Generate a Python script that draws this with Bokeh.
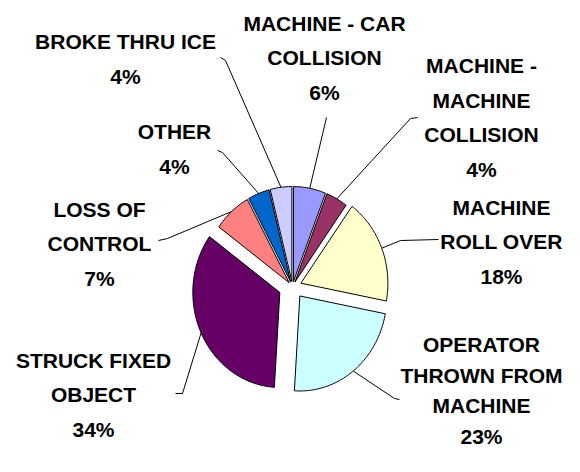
import numpy as np
from bokeh.plotting import figure
from bokeh.models import Range1d, ColumnDataSource
from bokeh.core.properties import value
from bokeh.embed import file_html
from bokeh.resources import INLINE

# ---- data ----
categories = [
    "MACHINE - CAR\nCOLLISION",
    "MACHINE -\nMACHINE\nCOLLISION",
    "MACHINE\nROLL OVER",
    "OPERATOR\nTHROWN FROM\nMACHINE",
    "STRUCK FIXED\nOBJECT",
    "LOSS OF\nCONTROL",
    "OTHER",
    "BROKE THRU ICE",
]
percent = [6, 4, 18, 23, 34, 7, 4, 4]

# ---- style / layout (screen pixels) ----
colors = ["#9999FF", "#993366", "#FFFFCC", "#CCFFFF", "#660066", "#FF8080", "#0066CC", "#CCCCFF"]
explode = [5, 5, 9, 12, 14, 5, 5, 5]
CX, CY = 292, 286
RX, RY = 87, 95
label_pos = [(324, 57), (481, 117), (501, 241), (481, 390),
             (93, 394), (99, 243), (174, 148.5), (125, 58.5)]
line_h = [1.5, 1.5, 1.5, 1.33, 1.5, 1.5, 1.5, 1.5]
leader_tail = [[(326, 117)],
               [(410, 118), (417, 117)],
               [(400, 240), (438, 239)],
               [(394, 398), (399, 399)],
               [(182, 393), (175, 393)],
               [(167, 238), (158, 240)],
               [(222, 152), (217, 150)],
               [(225, 60), (220, 57)]]

vals = np.array(percent, dtype=float)
frac = vals / vals.sum()
ends = np.cumsum(frac) * 2 * np.pi
starts = ends - frac * 2 * np.pi
mids = (starts + ends) / 2

xs, ys, lxs, lys = [], [], [], []
for i in range(len(vals)):
    ox = CX + explode[i] * np.sin(mids[i])
    oy = CY - explode[i] * np.cos(mids[i])
    th = np.linspace(starts[i], ends[i], max(8, int(frac[i] * 360)))
    xs.append([ox] + list(ox + RX * np.sin(th)))
    ys.append([oy] + list(oy - RY * np.cos(th)))
    px = ox + RX * np.sin(mids[i])
    py = oy - RY * np.cos(mids[i])
    lxs.append([px] + [t[0] for t in leader_tail[i]])
    lys.append([py] + [t[1] for t in leader_tail[i]])

labels = [f"{c}\n{v}%" for c, v in zip(categories, percent)]

p = figure(width=564, height=456, output_backend="svg", toolbar_location=None,
           x_range=Range1d(0, 564), y_range=Range1d(456, 0),
           x_axis_location=None, y_axis_location=None, min_border=0)
p.grid.visible = False
p.outline_line_color = None
p.background_fill_color = "white"

p.multi_line(lxs, lys, line_color="black", line_width=1)
p.patches(xs, ys, fill_color=colors, line_color="black", line_width=1)

for lh in sorted(set(line_h)):
    idx = [i for i in range(len(labels)) if line_h[i] == lh]
    src = ColumnDataSource(dict(x=[label_pos[i][0] for i in idx],
                                y=[label_pos[i][1] for i in idx],
                                text=[labels[i] for i in idx]))
    p.text("x", "y", text="text", source=src, text_font=value("Liberation Sans"),
           text_font_style="bold", text_font_size="21px", text_align="center",
           text_baseline="middle", text_line_height=lh, text_color="black")

open("out.html", "w").write(file_html(p, INLINE))
